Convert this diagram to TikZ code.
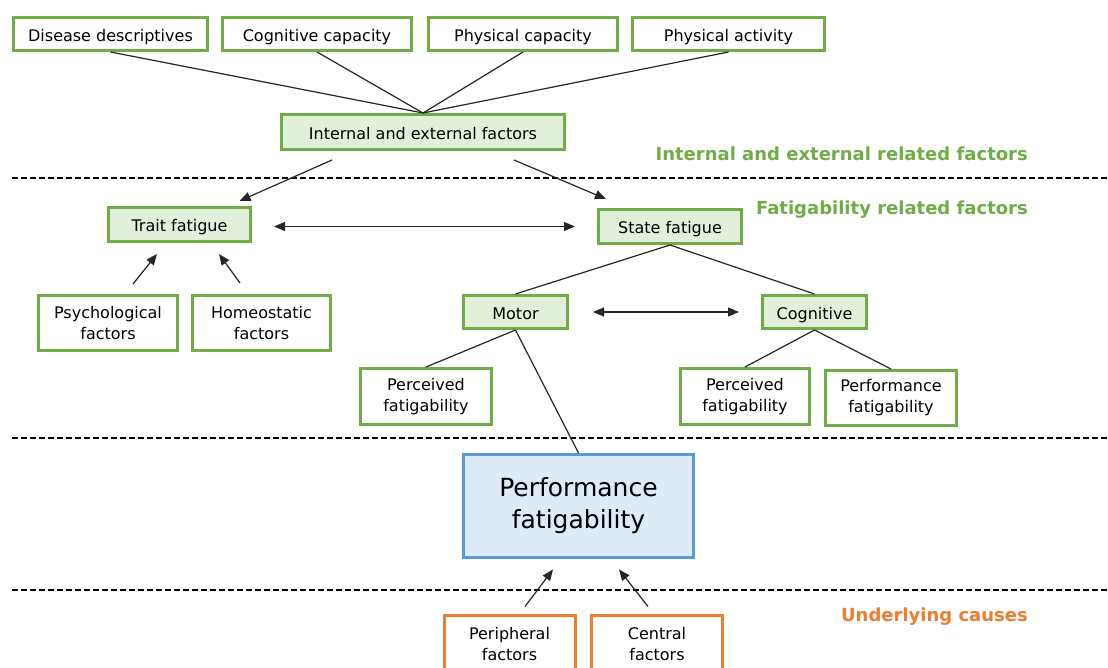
\documentclass[tikz,border=0pt]{standalone}
\usepackage{fontspec}
\setmainfont{DejaVu Sans}
\usetikzlibrary{arrows.meta,calc}
\definecolor{grn}{HTML}{70AD47}
\definecolor{lgrn}{HTML}{E2EFDA}
\definecolor{blu}{HTML}{5B9BD5}
\definecolor{lblu}{HTML}{DDEBF7}
\definecolor{org}{HTML}{ED7D31}

\begin{document}
\begin{tikzpicture}[x=1pt,y=-1pt,
    box/.style={draw=grn,line width=3pt,fill=white,inner sep=0pt,align=center,
      minimum height=33pt,font=\fontsize{16}{21}\selectfont},
    sgl/.style={text height=14.5pt,text depth=0pt},
    fbox/.style={box,sgl,fill=lgrn},
    obox/.style={box,draw=org,minimum width=131pt,minimum height=57pt},
    con/.style={line width=1.2pt,black!85},
    arr/.style={con,-{Triangle[length=11pt,width=9pt]}},
    darr/.style={con,{Triangle[length=11pt,width=9pt]}-{Triangle[length=11pt,width=9pt]}},
    lbl/.style={anchor=east,inner sep=0pt,font=\fontsize{18}{22}\selectfont\bfseries}]
    \clip (0,0) rectangle (1108,668);
    \fill[white] (0,0) rectangle (1108,668);
    \foreach \y in {178,438,590}
    {
      \draw[line width=2pt,dash pattern=on 6pt off 3pt] (12,\y) -- (1108,\y);
    }
    \begin{scope}
      \node[box,sgl,minimum width=194pt] (dis) at (110.5,34) {Disease descriptives};
      \node[box,sgl,minimum width=189pt] (cap) at (317,34) {Cognitive capacity};
      \node[box,sgl,minimum width=189pt] (phc) at (523,34) {Physical capacity};
      \node[box,sgl,minimum width=192pt] (pha) at (728.5,34) {Physical activity};
      \node[fbox,minimum width=283pt,minimum height=35pt] (ief) at (423,132) {Internal and external factors};
      \foreach \n in {dis,cap,phc,pha}
      {
        \draw[con] (\n.south) -- (ief.north);
      }
      \node[lbl,text=grn] (lblief) at (1028,153.5) {Internal and external related factors};
    \end{scope}
    \begin{scope}
      \node[fbox,minimum width=142pt,minimum height=34pt] (trait) at (179.5,224.5) {Trait fatigue};
      \node[fbox,minimum width=143pt,minimum height=34pt] (state) at (670,226.5) {State fatigue};
      \node[box,minimum width=139pt,minimum height=55pt] (psy) at (108,323) {Psychological\\factors};
      \node[box,minimum width=138pt,minimum height=55pt] (hom) at (261.5,323) {Homeostatic\\factors};
      \node[fbox,minimum width=104pt] (motor) at (515.5,312) {Motor};
      \node[fbox,minimum width=104pt] (cogn) at (814.5,312) {Cognitive};
      \node[box,minimum width=131pt,minimum height=56pt] (mperc) at (426,396.5) {Perceived\\fatigability};
      \node[box,minimum width=129pt,minimum height=56pt] (cperc) at (745,396.5) {Perceived\\fatigability};
      \node[box,minimum width=131pt,minimum height=55pt] (cperf) at (891,398) {Performance\\fatigability};
      \draw[arr] ($(ief.south)+(-91,9)$) -- ($(trait.north)+(60,-5)$);
      \draw[arr] ($(ief.south)+(91,9)$) -- ($(state.north)+(-64,-9)$);
      \draw[darr,shorten <=22pt,shorten >=22pt] (trait.east |- state.west) -- (state.west);
      \draw[arr] ($(psy.north)+(25,-10)$) -- ($(trait.south)+(-22.5,11)$);
      \draw[arr] ($(hom.north)+(-21.5,-11)$) -- ($(trait.south)+(39.5,11)$);
      \draw[con] (state.south) -- (motor.north);
      \draw[con] (state.south) -- (cogn.north);
      \draw[darr,shorten <=24pt,shorten >=22pt] (motor.east) -- (cogn.west);
      \draw[con] (motor.south) -- (mperc.north);
      \draw[con] (cogn.south) -- (cperc.north);
      \draw[con] (cogn.south) -- (cperf.north);
      \node[lbl,text=grn] (lblfat) at (1028,209.5) {Fatigability related factors};
    \end{scope}
    \begin{scope}
      \node[box,draw=blu,fill=lblu,minimum width=230pt,minimum height=103pt,
        font=\fontsize{25}{32}\selectfont] (perf) at (578.5,506) {Performance\\fatigability};
      \draw[con] (motor.south) -- (perf.north);
      \node[obox] (peri) at (509.5,644) {Peripheral\\factors};
      \node[obox] (cent) at (657,644) {Central\\factors};
      \draw[arr] ($(peri.north)+(15.5,-7.5)$) -- ($(perf.south)+(-25.5,10.5)$);
      \draw[arr] ($(cent.north)+(-9,-7.5)$) -- ($(perf.south)+(40.5,10.5)$);
      \node[lbl,text=org] (lblund) at (1028,616.5) {Underlying causes};
    \end{scope}
  \end{tikzpicture}
\end{document}
